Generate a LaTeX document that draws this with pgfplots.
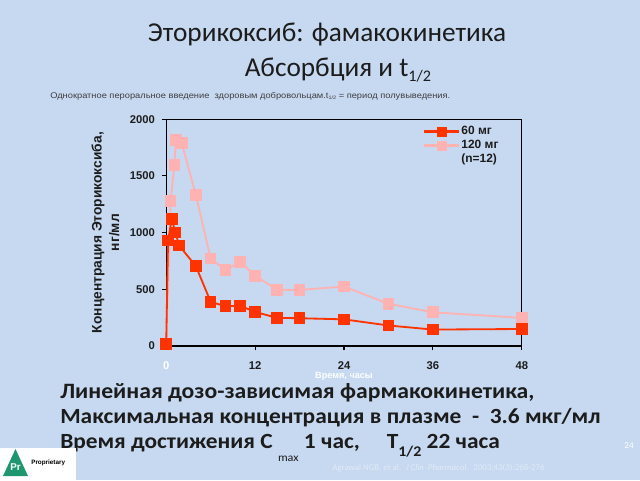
\documentclass[border=0pt]{standalone}
\usepackage{pgfplots}
\pgfplotsset{compat=1.18}
\usepackage{fontspec}
\setmainfont{Carlito}
\newfontfamily\arial{Liberation Sans}
\newfontfamily\arialw{Liberation Sans}[FakeStretch=1.12]
\newfontfamily\carlw{Carlito}[FakeStretch=1.08]
\definecolor{bg}{RGB}{198,217,241}
\definecolor{redA}{RGB}{255,51,0}
\definecolor{pinkB}{RGB}{255,178,178}
\definecolor{txt}{RGB}{28,28,28}
\definecolor{prgreen}{RGB}{30,150,110}
\definecolor{cite}{RGB}{225,234,247}

\pgfplotstableread{
t c
0 15
0.25 930
0.75 1120
1.25 1000
1.75 885
4 705
6 390
8 350
10 355
12 300
15 248
18 245
24 235
30 181
36 145
48 150
}\sixty

\pgfplotstableread{
t c
0 15
0.6 1280
1.1 1595
1.3 1815
2.1 1790
4 1333
6 771
8 669
10 742
12 620
15 495
18 495
24 524
30 373
36 297
48 248
}\onetwenty

\begin{document}
\begin{tikzpicture}[x=0.25mm,y=-0.25mm]
\fill[bg] (0,0) rectangle (640,480);
% titles
\node[font=\fontsize{19.4}{23}\selectfont, text=txt, anchor=base] at (327,41.7) {Эторикоксиб: фамакокинетика};
\node[font=\fontsize{19.4}{23}\selectfont, text=txt, anchor=base] at (338,76) {Абсорбция и t\raisebox{-0.45ex}{\fontsize{11.5}{13}\selectfont 1/2}};
\node[font=\arialw\fontsize{5.9}{7}\selectfont, text=txt!85, anchor=base west, inner sep=0pt] at (50,98) {Однократное пероральное введение \ здоровым добровольцам.t\raisebox{-0.4ex}{\fontsize{3.5}{4}\selectfont 1/2} = период полувыведения.};

\coordinate (O) at (166.2,346);
\begin{axis}[
  at={(O)}, anchor=south west,
  scale only axis, width=88.9mm, height=56.7mm,
  xmin=0, xmax=48, ymin=0, ymax=2000,
  clip=false,
  xtick={0,12,24,36,48},
  xticklabels={\textcolor{white}{0},12,24,36,48},
  ytick={0,500,1000,1500,2000},
  yticklabels={0,500,1000,1500,2000},
  tick align=outside, major tick length=3pt,
  xtick pos=bottom, ytick pos=left,
  axis line style={line width=0.8pt},
  every tick/.style={line width=0.8pt, black},
  ticklabel style={font=\arial\bfseries\fontsize{8}{9}\selectfont, text=txt},
  xticklabel style={yshift=-4.5pt},
  yticklabel style={xshift=-1.5pt},
  xlabel={Время, часы},
  xlabel style={font=\arial\bfseries\fontsize{6.5}{7}\selectfont, text=white, at={(axis description cs:0.5,-0.132)}, anchor=center},
  ylabel={Концентрация Эторикоксиба,\\нг/мл},
  ylabel style={font=\arial\bfseries\fontsize{9.8}{12.5}\selectfont, text=txt, align=center, at={(axis description cs:-0.171,0.5)}, anchor=center},
  legend style={at={(rel axis cs:0.955,0.995)}, anchor=north east, draw=none, fill=none,
     font=\arial\bfseries\fontsize{8.5}{10}\selectfont, row sep=-1.5pt},
  legend cell align=left,
]
\addplot[draw=pinkB, line width=1.3pt, mark=square*, mark size=3.5pt, mark options={solid, draw=pinkB, fill=pinkB}, forget plot] table[x=t,y=c] {\onetwenty};
\addplot[draw=redA, line width=1.3pt, mark=square*, mark size=3.5pt, mark options={solid, draw=redA, fill=redA}, forget plot] table[x=t,y=c] {\sixty};
\addlegendimage{legend image code/.code={\fill[color=redA] (0cm,-0.65pt) rectangle (0.84cm,0.65pt); \fill[color=redA] (0.42cm-3.2pt,-3.2pt) rectangle (0.42cm+3.2pt,3.2pt);}}
\addlegendentry{\textcolor{txt}{60 мг}}
\addlegendimage{legend image code/.code={\fill[color=pinkB] (0cm,-0.65pt) rectangle (0.84cm,0.65pt); \fill[color=pinkB] (0.42cm-3.2pt,-3.2pt) rectangle (0.42cm+3.2pt,3.2pt);}}
\addlegendentry{\textcolor{txt}{120 мг}}
\addlegendimage{empty legend}
\addlegendentry{\textcolor{txt}{(n=12)}}
\end{axis}

% bottom text
\node[font=\carlw\bfseries\fontsize{15.6}{17}\selectfont, text=txt, anchor=base west, inner sep=0pt] at (60,398) {Линейная дозо-зависимая фармакокинетика,};
\node[font=\carlw\bfseries\fontsize{15.4}{17}\selectfont, text=txt, anchor=base west, inner sep=0pt] at (60,423.7) {Максимальная концентрация в плазме \ - \ 3.6 мкг/мл};
\node[font=\carlw\bfseries\fontsize{15.4}{17}\selectfont, text=txt, anchor=base west, inner sep=0pt] at (60,448) {Время достижения C \raisebox{-1.3ex}{\mdseries\fontsize{8}{9}\selectfont max} 1 час, \quad T\raisebox{-0.8ex}{\fontsize{10.5}{12}\selectfont 1/2} 22 часа};
% page number and citation
\node[font=\fontsize{6.5}{7}\selectfont, text=white, anchor=center] at (629,446) {24};
\node[font=\fontsize{6.3}{7}\selectfont, text=cite, anchor=west, inner sep=0pt] at (332,468.3) {Agrawal NGB, et al. \ \textit{J Clin \ Pharmacol.} \ 2003;43(3):268-276};
% logo
\fill[white] (0,448) rectangle (76,480);
\fill[prgreen] (3,476) -- (15.5,449) -- (28,476) -- cycle;
\node[font=\arial\bfseries\fontsize{7}{8}\selectfont, text=white] at (15.5,467) {Pr};
\node[font=\arial\bfseries\fontsize{4.5}{5}\selectfont, text=black, anchor=west, inner sep=0pt] at (31,463) {Proprietary};
\end{tikzpicture}
\end{document}
